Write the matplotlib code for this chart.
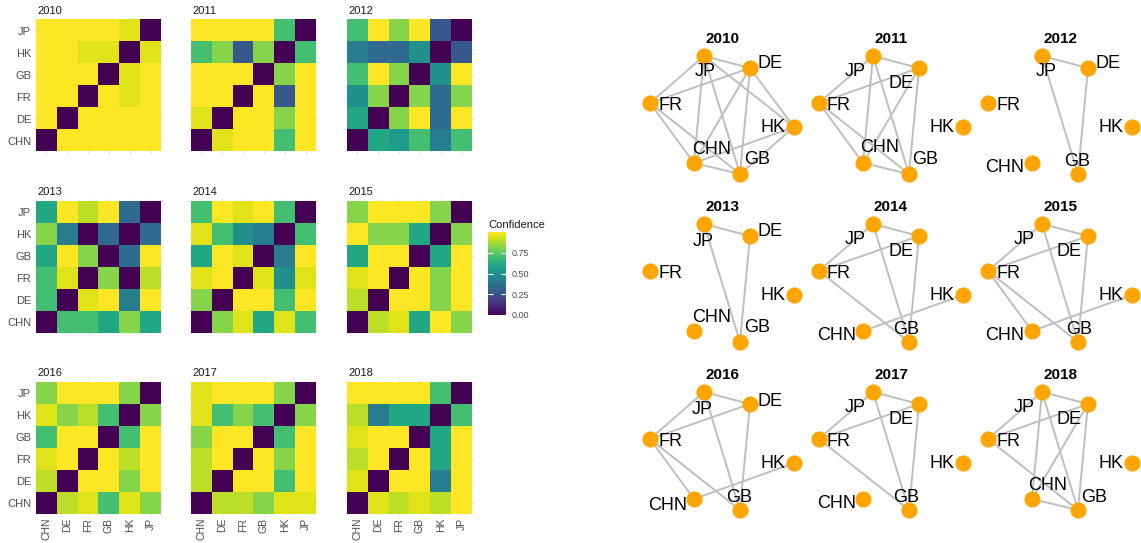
import numpy as np
import matplotlib.pyplot as plt

plt.rcParams['font.family'] = ['Liberation Sans', 'DejaVu Sans']

countries = ['CHN', 'DE', 'FR', 'GB', 'HK', 'JP']
years = [2010, 2011, 2012, 2013, 2014, 2015, 2016, 2017, 2018]

# confidence matrices, rows top to bottom: JP, HK, GB, FR, DE, CHN
# columns: CHN, DE, FR, GB, HK, JP
conf_2010 = [[1.00, 1.00, 1.00, 1.00, 0.95, 0.00],
             [1.00, 1.00, 0.95, 0.95, 0.00, 0.95],
             [1.00, 1.00, 1.00, 0.00, 0.95, 1.00],
             [1.00, 1.00, 0.00, 1.00, 0.95, 1.00],
             [1.00, 0.00, 1.00, 1.00, 1.00, 1.00],
             [0.00, 1.00, 1.00, 1.00, 1.00, 1.00]]
conf_2011 = [[1.00, 1.00, 1.00, 1.00, 0.70, 0.00],
             [0.70, 0.82, 0.27, 0.82, 0.00, 0.70],
             [1.00, 1.00, 1.00, 0.00, 0.82, 1.00],
             [1.00, 1.00, 0.00, 1.00, 0.27, 1.00],
             [0.95, 0.00, 1.00, 1.00, 0.82, 1.00],
             [0.00, 0.95, 1.00, 1.00, 0.70, 1.00]]
conf_2012 = [[0.70, 1.00, 0.82, 1.00, 0.27, 0.00],
             [0.42, 0.35, 0.35, 0.50, 0.00, 0.27],
             [0.70, 1.00, 0.82, 0.00, 0.50, 1.00],
             [0.50, 0.82, 0.00, 0.82, 0.35, 0.82],
             [0.60, 0.00, 0.82, 1.00, 0.35, 1.00],
             [0.00, 0.60, 0.55, 0.70, 0.42, 0.70]]
conf_2013 = [[0.60, 1.00, 0.90, 1.00, 0.35, 0.00],
             [0.82, 0.42, 0.00, 0.35, 0.00, 0.35],
             [0.60, 1.00, 0.82, 0.00, 0.35, 1.00],
             [0.70, 0.95, 0.00, 0.82, 0.00, 0.90],
             [0.70, 0.00, 0.95, 1.00, 0.42, 1.00],
             [0.00, 0.70, 0.70, 0.60, 0.82, 0.60]]
conf_2014 = [[0.70, 1.00, 0.95, 1.00, 0.70, 0.00],
             [0.95, 0.70, 0.50, 0.42, 0.00, 0.70],
             [0.60, 1.00, 0.95, 0.00, 0.42, 1.00],
             [0.95, 1.00, 0.00, 0.95, 0.50, 0.95],
             [0.82, 0.00, 1.00, 1.00, 0.70, 1.00],
             [0.00, 0.82, 0.95, 0.60, 0.95, 0.70]]
conf_2015 = [[0.82, 1.00, 1.00, 1.00, 0.82, 0.00],
             [1.00, 0.82, 0.82, 0.60, 0.00, 0.82],
             [0.60, 1.00, 1.00, 0.00, 0.60, 1.00],
             [0.95, 1.00, 0.00, 1.00, 0.82, 1.00],
             [0.90, 0.00, 1.00, 1.00, 0.82, 1.00],
             [0.00, 0.90, 0.95, 0.60, 1.00, 0.82]]
conf_2016 = [[0.82, 1.00, 1.00, 1.00, 0.82, 0.00],
             [0.95, 0.82, 0.90, 0.70, 0.00, 0.82],
             [0.70, 1.00, 1.00, 0.00, 0.70, 1.00],
             [0.95, 1.00, 0.00, 1.00, 0.90, 1.00],
             [0.90, 0.00, 1.00, 1.00, 0.82, 1.00],
             [0.00, 0.90, 0.95, 0.70, 0.95, 0.82]]
conf_2017 = [[0.95, 1.00, 1.00, 1.00, 0.82, 0.00],
             [0.95, 0.70, 0.82, 0.70, 0.00, 0.82],
             [0.82, 1.00, 1.00, 0.00, 0.70, 1.00],
             [0.90, 1.00, 0.00, 1.00, 0.82, 1.00],
             [0.90, 0.00, 1.00, 1.00, 0.70, 1.00],
             [0.00, 0.90, 0.90, 0.82, 0.95, 0.95]]
conf_2018 = [[1.00, 1.00, 1.00, 1.00, 0.70, 0.00],
             [0.90, 0.42, 0.60, 0.60, 0.00, 0.70],
             [0.95, 1.00, 1.00, 0.00, 0.60, 1.00],
             [0.90, 1.00, 0.00, 1.00, 0.60, 1.00],
             [0.95, 0.00, 1.00, 1.00, 0.42, 1.00],
             [0.00, 0.95, 0.90, 0.95, 0.90, 1.00]]

# network edges per year
edges_2010 = [('JP', 'FR'), ('JP', 'DE'), ('JP', 'CHN'), ('JP', 'GB'), ('JP', 'HK'),
              ('DE', 'FR'), ('DE', 'CHN'), ('DE', 'GB'), ('DE', 'HK'),
              ('FR', 'CHN'), ('FR', 'GB'), ('CHN', 'HK'), ('CHN', 'GB'), ('HK', 'GB')]
edges_2011 = [('JP', 'DE'), ('JP', 'FR'), ('JP', 'CHN'), ('JP', 'GB'),
              ('DE', 'FR'), ('DE', 'CHN'), ('DE', 'GB'),
              ('FR', 'CHN'), ('FR', 'GB'), ('CHN', 'GB')]
edges_2012 = [('JP', 'DE'), ('JP', 'GB'), ('DE', 'GB')]
edges_2013 = [('JP', 'DE'), ('JP', 'GB'), ('DE', 'GB')]
edges_2014 = [('JP', 'DE'), ('JP', 'FR'), ('JP', 'GB'), ('DE', 'FR'), ('DE', 'GB'),
              ('FR', 'GB'), ('CHN', 'HK')]
edges_2015 = [('JP', 'DE'), ('JP', 'FR'), ('JP', 'GB'), ('DE', 'FR'), ('DE', 'GB'),
              ('FR', 'CHN'), ('FR', 'GB'), ('CHN', 'HK')]
edges_2016 = [('JP', 'DE'), ('JP', 'FR'), ('JP', 'GB'), ('DE', 'FR'), ('DE', 'GB'),
              ('FR', 'CHN'), ('FR', 'GB'), ('CHN', 'HK')]
edges_2017 = [('JP', 'DE'), ('JP', 'FR'), ('JP', 'GB'), ('DE', 'FR'), ('DE', 'GB'),
              ('FR', 'GB')]
edges_2018 = [('JP', 'DE'), ('JP', 'FR'), ('JP', 'CHN'), ('JP', 'GB'),
              ('DE', 'FR'), ('DE', 'CHN'), ('DE', 'GB'), ('FR', 'GB'), ('CHN', 'GB')]

conf_all = [conf_2010, conf_2011, conf_2012, conf_2013, conf_2014,
            conf_2015, conf_2016, conf_2017, conf_2018]
edges_all = [edges_2010, edges_2011, edges_2012, edges_2013, edges_2014,
             edges_2015, edges_2016, edges_2017, edges_2018]

# layout (pixels)
W, H = 1141, 543
fig = plt.figure(figsize=(W / 100, H / 100), dpi=100)


def px_axes(x, y, w, h):
    return fig.add_axes([x / W, 1 - (y + h) / H, w / W, h / H])


tile_left = [36, 191, 347]
tile_top = [20, 201, 382]
uw = 125 / 6
uh = 131.5 / 6

for i, (year, conf) in enumerate(zip(years, conf_all)):
    r, c = divmod(i, 3)
    ax = px_axes(tile_left[c] - 0.1 * uw, tile_top[r] - 0.1 * uh, 6.2 * uw, 6.2 * uh)
    ax.imshow(np.array(conf), cmap='viridis', vmin=0, vmax=1, origin='upper',
              extent=[-0.5, 5.5, -0.5, 5.5], aspect='auto',
              interpolation='nearest', zorder=1)
    ax.set_xlim(-0.6, 5.6)
    ax.set_ylim(-0.6, 5.6)
    ax.set_xticks(range(6))
    ax.set_yticks(range(6))
    ax.set_axisbelow(True)
    ax.grid(True, color='#dcdcdc', lw=0.6)
    for s in ax.spines.values():
        s.set_visible(False)
    ax.tick_params(length=0, labelsize=8, labelcolor='#4d4d4d', pad=2)
    if c == 0:
        ax.set_yticklabels(countries)
    else:
        ax.set_yticklabels([])
    if r == 2:
        ax.set_xticklabels(countries, rotation=90)
        ax.tick_params(axis='x', pad=1.5, labelsize=7.5)
    else:
        ax.set_xticklabels([])
    ax.set_title(str(year), loc='left', fontsize=8, pad=3, color='#1a1a1a', x=0.03)

# colorbar
cax = px_axes(488, 232, 18, 83)
grad = np.linspace(0, 1, 256).reshape(-1, 1)
cax.imshow(grad, cmap='viridis', origin='lower', extent=[0, 1, 0, 1], aspect='auto')
cax.set_xlim(0, 1)
cax.set_ylim(0, 1)
cax.set_xticks([])
cax.set_yticks([0, 0.25, 0.5, 0.75])
cax.set_yticklabels(['0.00', '0.25', '0.50', '0.75'])
cax.yaxis.set_ticks_position('both')
cax.tick_params(axis='y', direction='in', length=3.5, width=0.8, color='white',
                labelleft=False, labelright=True, labelsize=6.5,
                labelcolor='#4d4d4d', pad=4)
for s in cax.spines.values():
    s.set_visible(False)
fig.text(488 / W, 1 - 225 / H, 'Confidence', fontsize=8, color='#1a1a1a',
         ha='left', va='center')

# network panels
node_pos = {'JP': (74, 36), 'DE': (120, 48), 'FR': (20, 83),
            'HK': (164, 107), 'CHN': (64, 143), 'GB': (110, 154)}
base_off = {'FR': (20, 2), 'HK': (-21, 0)}
label_off = {
    2010: {'JP': (1, 16), 'DE': (20, -5), 'CHN': (18, -14), 'GB': (17, -14)},
    2011: {'JP': (-18, 15), 'DE': (-18, 15), 'CHN': (17, -15), 'GB': (16, -14)},
    2012: {'JP': (4, 16), 'DE': (20, -5), 'CHN': (-27, 5), 'GB': (-1, -13)},
    2013: {'JP': (-1, 17), 'DE': (20, -5), 'CHN': (18, -13), 'GB': (17, -14)},
    2014: {'JP': (-18, 15), 'DE': (-18, 15), 'CHN': (-26, 5), 'GB': (-3, -12)},
    2015: {'JP': (-18, 16), 'DE': (-19, 16), 'CHN': (-27, 5), 'GB': (1, -13)},
    2016: {'JP': (-2, 17), 'DE': (20, -3), 'CHN': (-26, 6), 'GB': (-1, -13)},
    2017: {'JP': (-18, 15), 'DE': (-18, 15), 'CHN': (-26, 5), 'GB': (-3, -12)},
    2018: {'JP': (-18, 16), 'DE': (-19, 16), 'CHN': (16, -13), 'GB': (16, -13)},
}

for i, (year, edges) in enumerate(zip(years, edges_all)):
    r, c = divmod(i, 3)
    ax = px_axes(630 + 169 * c, 20 + 168 * r, 169, 168)
    ax.set_xlim(0, 169)
    ax.set_ylim(168, 0)
    ax.axis('off')
    for a, b in edges:
        ax.plot([node_pos[a][0], node_pos[b][0]], [node_pos[a][1], node_pos[b][1]],
                color='#bebebe', lw=1.4, zorder=1, clip_on=False)
    xs = [node_pos[n][0] for n in countries]
    ys = [node_pos[n][1] for n in countries]
    ax.scatter(xs, ys, s=135, color='#ffa500', linewidths=0, zorder=2, clip_on=False)
    offs = dict(base_off)
    offs.update(label_off[year])
    for n in countries:
        dx, dy = offs[n]
        ax.text(node_pos[n][0] + dx, node_pos[n][1] + dy, n, ha='center', va='center',
                fontsize=13, color='black', zorder=3, clip_on=False)
    ax.text(92, 19, str(year), ha='center', va='center', fontsize=11,
            fontweight='bold', clip_on=False)

fig.savefig('out.png', dpi=100)
